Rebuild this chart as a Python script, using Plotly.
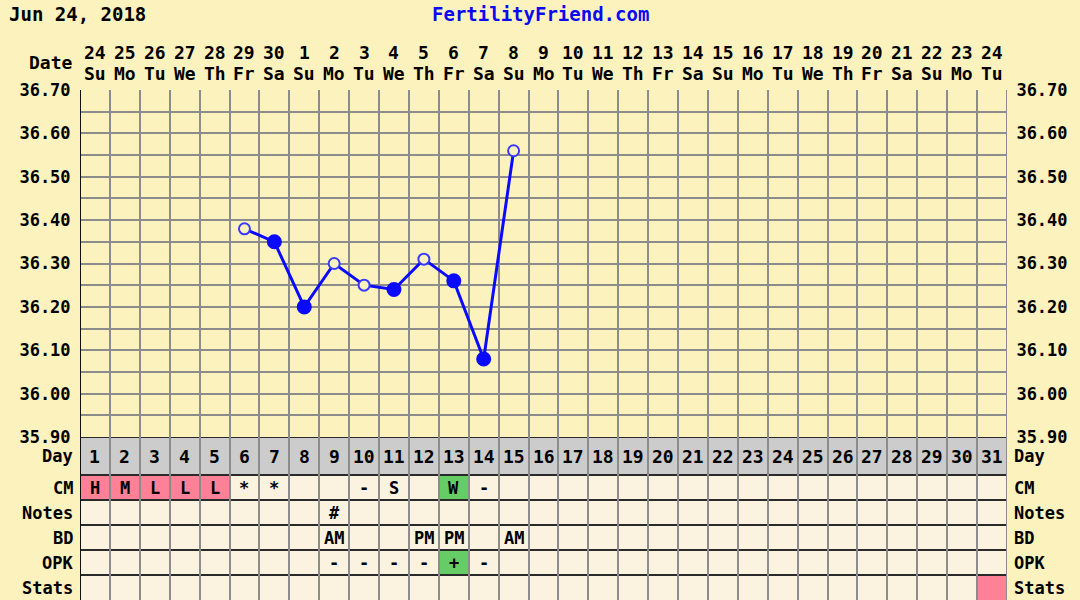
import plotly.graph_objects as go

# ---------------- data ----------------
date_labels = ["24", "25", "26", "27", "28", "29", "30", "1", "2", "3", "4", "5", "6", "7", "8",
               "9", "10", "11", "12", "13", "14", "15", "16", "17", "18", "19", "20", "21", "22", "23", "24"]
weekday_labels = ["Su", "Mo", "Tu", "We", "Th", "Fr", "Sa", "Su", "Mo", "Tu", "We", "Th", "Fr", "Sa", "Su",
                  "Mo", "Tu", "We", "Th", "Fr", "Sa", "Su", "Mo", "Tu", "We", "Th", "Fr", "Sa", "Su", "Mo", "Tu"]
cycle_days = [1, 2, 3, 4, 5, 6, 7, 8, 9, 10, 11, 12, 13, 14, 15, 16,
              17, 18, 19, 20, 21, 22, 23, 24, 25, 26, 27, 28, 29, 30, 31]

temps = [None, None, None, None, None, 36.38, 36.35, 36.20, 36.30, 36.25, 36.24, 36.31, 36.26, 36.08, 36.56,
         None, None, None, None, None, None, None, None, None, None, None, None, None, None, None, None]
open_circle_days = [6, 9, 10, 12, 15]

cm = ["H", "M", "L", "L", "L", "*", "*", "", "", "-", "S", "", "W", "-", "", "",
      "", "", "", "", "", "", "", "", "", "", "", "", "", "", ""]
notes = ["", "", "", "", "", "", "", "", "#", "", "", "", "", "", "", "",
         "", "", "", "", "", "", "", "", "", "", "", "", "", "", ""]
bd = ["", "", "", "", "", "", "", "", "AM", "", "", "PM", "PM", "", "AM", "",
      "", "", "", "", "", "", "", "", "", "", "", "", "", "", ""]
opk = ["", "", "", "", "", "", "", "", "-", "-", "-", "-", "+", "-", "", "",
       "", "", "", "", "", "", "", "", "", "", "", "", "", "", ""]
stats = ["", "", "", "", "", "", "", "", "", "", "", "", "", "", "", "",
         "", "", "", "", "", "", "", "", "", "", "", "", "", "", ""]

period_days = [1, 2, 3, 4, 5]
fertile_cm_days = [13]
positive_opk_days = [13]
stats_flag_days = [31]

temp_ticks = [35.90, 35.95, 36.00, 36.05, 36.10, 36.15, 36.20, 36.25, 36.30,
              36.35, 36.40, 36.45, 36.50, 36.55, 36.60, 36.65, 36.70]
temp_tick_text = ["35.90", "", "36.00", "", "36.10", "", "36.20", "", "36.30",
                  "", "36.40", "", "36.50", "", "36.60", "", "36.70"]

row_names = ["Day", "CM", "Notes", "BD", "OPK", "Stats"]

# ---------------- style ----------------
BG = "#FCF2BE"
CELL = "#FBF3E0"
DAYBG = "#CCCCCC"
PINK = "#FF8197"
GREEN = "#66CC66"
GRID = "#8C8C8C"
DARK = "#2A2A2A"
BLUE = "#0A0AFF"
FONT = "DejaVu Sans Mono"

W, H = 1080, 600
ML, MR, MT, MB = 80, 73, 90, 0
row_px = [38, 25, 25, 25, 25, 25]
table_h = sum(row_px)
plot_h = H - MT - MB
y_split = table_h / plot_h

row_tops = []
acc = 0
for h in row_px:
    row_tops.append(acc)
    acc += h

fig = go.Figure()

# temperature line
marker_colors = [BG if d in open_circle_days else BLUE for d in cycle_days]
marker_line_colors = ["#3A3AFF" if d in open_circle_days else BLUE for d in cycle_days]
marker_sizes = [11 if d in open_circle_days else 13 for d in cycle_days]
fig.add_trace(go.Scatter(
    x=cycle_days, y=temps, mode="lines+markers", connectgaps=False,
    line=dict(color=BLUE, width=3),
    marker=dict(size=marker_sizes, color=marker_colors, opacity=1,
                line=dict(color=marker_line_colors, width=2)),
    xaxis="x", yaxis="y", hoverinfo="skip"))

# invisible helpers so the extra axes exist
fig.add_trace(go.Scatter(x=[1], y=[36.3], mode="markers", marker=dict(opacity=0),
                         xaxis="x", yaxis="y3", hoverinfo="skip"))
fig.add_trace(go.Scatter(x=[1], y=[10], mode="markers", marker=dict(opacity=0),
                         xaxis="x", yaxis="y2", hoverinfo="skip"))

shapes = []
annotations = []

# table row backgrounds
for i, name in enumerate(row_names):
    y0 = row_tops[i]
    y1 = y0 + row_px[i]
    shapes.append(dict(type="rect", xref="x", yref="y2", x0=0.5, x1=31.5, y0=y0, y1=y1,
                       fillcolor=DAYBG if name == "Day" else CELL, line=dict(width=0), layer="below"))


def hl(row_idx, days, color):
    for d in days:
        y0 = row_tops[row_idx]
        shapes.append(dict(type="rect", xref="x", yref="y2", x0=d - 0.5, x1=d + 0.5,
                           y0=y0, y1=y0 + row_px[row_idx], fillcolor=color,
                           line=dict(width=0), layer="below"))


hl(1, period_days, PINK)
hl(1, fertile_cm_days, GREEN)
hl(4, positive_opk_days, GREEN)
hl(5, stats_flag_days, PINK)

# horizontal table lines
for i in range(len(row_names)):
    shapes.append(dict(type="line", xref="x", yref="y2", x0=0.5, x1=31.5,
                       y0=row_tops[i], y1=row_tops[i], line=dict(color=DARK, width=2), layer="below"))

# borders
shapes.append(dict(type="line", xref="x", yref="paper", x0=31.5, x1=31.5, y0=0, y1=1,
                   line=dict(color=GRID, width=2)))
shapes.append(dict(type="line", xref="x", yref="paper", x0=0.5, x1=0.5, y0=0, y1=1,
                   line=dict(color="#111111", width=2)))

# table texts
row_values = [None, cm, notes, bd, opk, stats]
for i, vals in enumerate(row_values):
    yc = row_tops[i] + row_px[i] / 2
    if vals is None:
        for d in cycle_days:
            annotations.append(dict(x=d, y=yc, xref="x", yref="y2", text=str(d), showarrow=False,
                                    font=dict(size=18), xanchor="center", yanchor="middle"))
    else:
        for d, t in zip(cycle_days, vals):
            if t:
                annotations.append(dict(x=d, y=yc, xref="x", yref="y2", text=t, showarrow=False,
                                        font=dict(size=17), xanchor="center", yanchor="middle"))
    annotations.append(dict(x=0, y=yc, xref="paper", yref="y2", text=row_names[i], showarrow=False,
                            xanchor="right", yanchor="middle", xshift=-5, font=dict(size=17)))
    annotations.append(dict(x=1, y=yc, xref="paper", yref="y2", text=row_names[i], showarrow=False,
                            xanchor="left", yanchor="middle", xshift=5, font=dict(size=17)))

# date header
for d, dl, wl in zip(cycle_days, date_labels, weekday_labels):
    annotations.append(dict(x=d, y=1, xref="x", yref="paper", text=dl, showarrow=False,
                            xanchor="center", yanchor="middle", yshift=38, font=dict(size=18)))
    annotations.append(dict(x=d, y=1, xref="x", yref="paper", text=wl, showarrow=False,
                            xanchor="center", yanchor="middle", yshift=17, font=dict(size=18)))
annotations.append(dict(x=0, y=1, xref="paper", yref="paper", text="Date", showarrow=False,
                        xanchor="right", yanchor="middle", xshift=-5, yshift=28, font=dict(size=18)))

# titles
annotations.append(dict(x=0, y=1, xref="paper", yref="paper", text="Jun 24, 2018", showarrow=False,
                        xanchor="left", yanchor="middle", xshift=-73, yshift=76, font=dict(size=19)))
annotations.append(dict(x=0.497, y=1, xref="paper", yref="paper", text="FertilityFriend.com",
                        showarrow=False, xanchor="center", yanchor="middle", yshift=76,
                        font=dict(size=19, color="#0A0AF0")))

yaxis_common = dict(range=[35.90, 36.70], tickvals=temp_ticks, ticktext=temp_tick_text,
                    zeroline=False, ticks="outside", ticklen=5, tickcolor="rgba(0,0,0,0)",
                    tickfont=dict(size=17), automargin=False, fixedrange=True)

fig.update_layout(
    width=W, height=H,
    margin=dict(l=ML, r=MR, t=MT, b=MB, pad=0),
    paper_bgcolor=BG, plot_bgcolor=BG,
    showlegend=False,
    font=dict(family=FONT, size=17, color="#000000", weight="bold"),
    xaxis=dict(range=[0.5, 31.5], tickvals=[d + 0.5 for d in cycle_days[:-1]],
               showticklabels=False, showgrid=True, gridcolor=GRID, gridwidth=2,
               zeroline=False, ticks="", automargin=False, fixedrange=True),
    yaxis=dict(domain=[y_split, 1], showgrid=True, gridcolor=GRID, gridwidth=2, **yaxis_common),
    yaxis3=dict(overlaying="y", side="right", anchor="x", showgrid=False, **yaxis_common),
    yaxis2=dict(domain=[0, y_split], range=[table_h, 0], showgrid=False, showticklabels=False,
                zeroline=False, ticks="", anchor="x", automargin=False, fixedrange=True),
    shapes=shapes,
    annotations=annotations,
)

fig.write_html("out.html", config={"displayModeBar": False},
               post_script="document.body.style.margin='0';document.body.style.padding='0';"
                           "document.body.style.background='" + BG + "';")
